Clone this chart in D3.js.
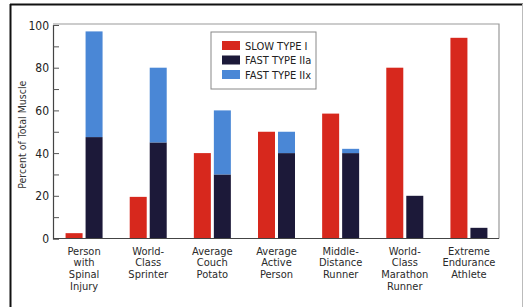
<!DOCTYPE html>
<html><head><meta charset="utf-8">
<script src="https://cdn.jsdelivr.net/npm/d3@7"></script>
<style>
html,body{margin:0;padding:0;background:#fff;}
svg{display:block;}
text{font-family:"DejaVu Sans Condensed","Liberation Sans",Arial,sans-serif;}
</style></head>
<body>
<svg id="c" width="523" height="307"></svg>
<script>
const categories = [
  ["Person","with","Spinal","Injury"],
  ["World-","Class","Sprinter"],
  ["Average","Couch","Potato"],
  ["Average","Active","Person"],
  ["Middle-","Distance","Runner"],
  ["World-","Class","Marathon","Runner"],
  ["Extreme","Endurance","Athlete"]
];
const slowTypeI = [2.5, 19.5, 40, 50, 58.5, 80, 94];
const fastTypeIIa = [47.5, 45, 30, 40, 40, 20, 5];
const fastTypeIIx = [49.5, 35, 30, 10, 2, 0, 0];
const yTicks = [0, 20, 40, 60, 80, 100];
const yMinorTicks = [10, 30, 50, 70, 90];
const legendLabels = ["SLOW TYPE I", "FAST TYPE IIa", "FAST TYPE IIx"];
const colors = ["#d7281d", "#1c1939", "#4a87d6"];

(function(){
const svg = d3.select("#c");
svg.append("rect").attr("x",0).attr("y",0).attr("width",523).attr("height",307).attr("fill","#fff");
svg.append("line").attr("x1",10).attr("x2",523).attr("y1",4.5).attr("y2",4.5).attr("stroke","#111").attr("stroke-width",2);
svg.append("line").attr("x1",10.5).attr("x2",10.5).attr("y1",4).attr("y2",307).attr("stroke","#111").attr("stroke-width",2);
svg.append("line").attr("x1",522.5).attr("x2",522.5).attr("y1",4).attr("y2",307).attr("stroke","#bbb").attr("stroke-width",1);

const pLeft = 53, pRight = 499, pTop = 25, pBottom = 238.5;
const idx = d3.range(categories.length);
const x = d3.scaleBand().domain(idx).range([pLeft, pRight+3]).paddingInner(0).paddingOuter(0);
const y = d3.scaleLinear().domain([0,100]).range([pBottom, pTop]);
const barW = 17, gap = 3;

svg.append("path").attr("d",`M${pLeft},${pTop-1}H${pRight}V${pBottom}`).attr("fill","none").attr("stroke","#999").attr("stroke-width",1.2);

const g = svg.append("g");
idx.forEach(i=>{
  const cx = x(i) + x.bandwidth()/2 - 1;
  g.append("rect").attr("x",cx - gap/2 - barW).attr("width",barW)
    .attr("y",y(slowTypeI[i])).attr("height",y(0)-y(slowTypeI[i])).attr("fill",colors[0]);
  g.append("rect").attr("x",cx + gap/2).attr("width",barW)
    .attr("y",y(fastTypeIIa[i])).attr("height",y(0)-y(fastTypeIIa[i])).attr("fill",colors[1]);
  if (fastTypeIIx[i] > 0) {
    g.append("rect").attr("x",cx + gap/2).attr("width",barW)
      .attr("y",y(fastTypeIIa[i]+fastTypeIIx[i])).attr("height",y(fastTypeIIa[i])-y(fastTypeIIa[i]+fastTypeIIx[i])).attr("fill",colors[2]);
  }
  const t = g.append("text").attr("text-anchor","middle").attr("font-size",11).attr("fill","#2a2a2a")
    .attr("transform",`translate(${cx},${pBottom+16})`);
  categories[i].forEach((line,k)=>{
    t.append("tspan").attr("x",0).attr("y",k*11.7).text(line);
  });
});

const yAxis = d3.axisRight(y).tickValues(yTicks.concat(yMinorTicks)).tickSize(6).tickFormat("");
const ya = svg.append("g").attr("transform",`translate(${pLeft},0)`).call(yAxis);
ya.select(".domain").attr("stroke","#444").attr("stroke-width",1.2);
ya.selectAll(".tick line").attr("stroke","#555");
yTicks.forEach(v=>{
  svg.append("text").attr("x",pLeft-4).attr("y",y(v)+4.5).attr("text-anchor","end")
    .attr("font-size",12).attr("fill","#222").text(v);
});
svg.append("line").attr("x1",pLeft).attr("x2",pRight).attr("y1",pBottom).attr("y2",pBottom).attr("stroke","#444").attr("stroke-width",1.2);

svg.append("text").attr("transform",`translate(26,${(pTop+pBottom)/2 + 3}) rotate(-90)`)
  .attr("text-anchor","middle").attr("font-size",10.5).attr("fill","#333").text("Percent of Total Muscle");

const lg = svg.append("g").attr("transform","translate(211,32)");
lg.append("rect").attr("width",105).attr("height",57).attr("fill","#fff").attr("stroke","#888").attr("stroke-width",1);
legendLabels.forEach((l,k)=>{
  const yy = 9 + k*14.5;
  lg.append("rect").attr("x",11).attr("y",yy).attr("width",18).attr("height",9).attr("fill",colors[k]);
  lg.append("text").attr("x",34).attr("y",yy+8.5).attr("font-size",11).attr("fill","#222").text(l);
});
})();
</script>
</body></html>
